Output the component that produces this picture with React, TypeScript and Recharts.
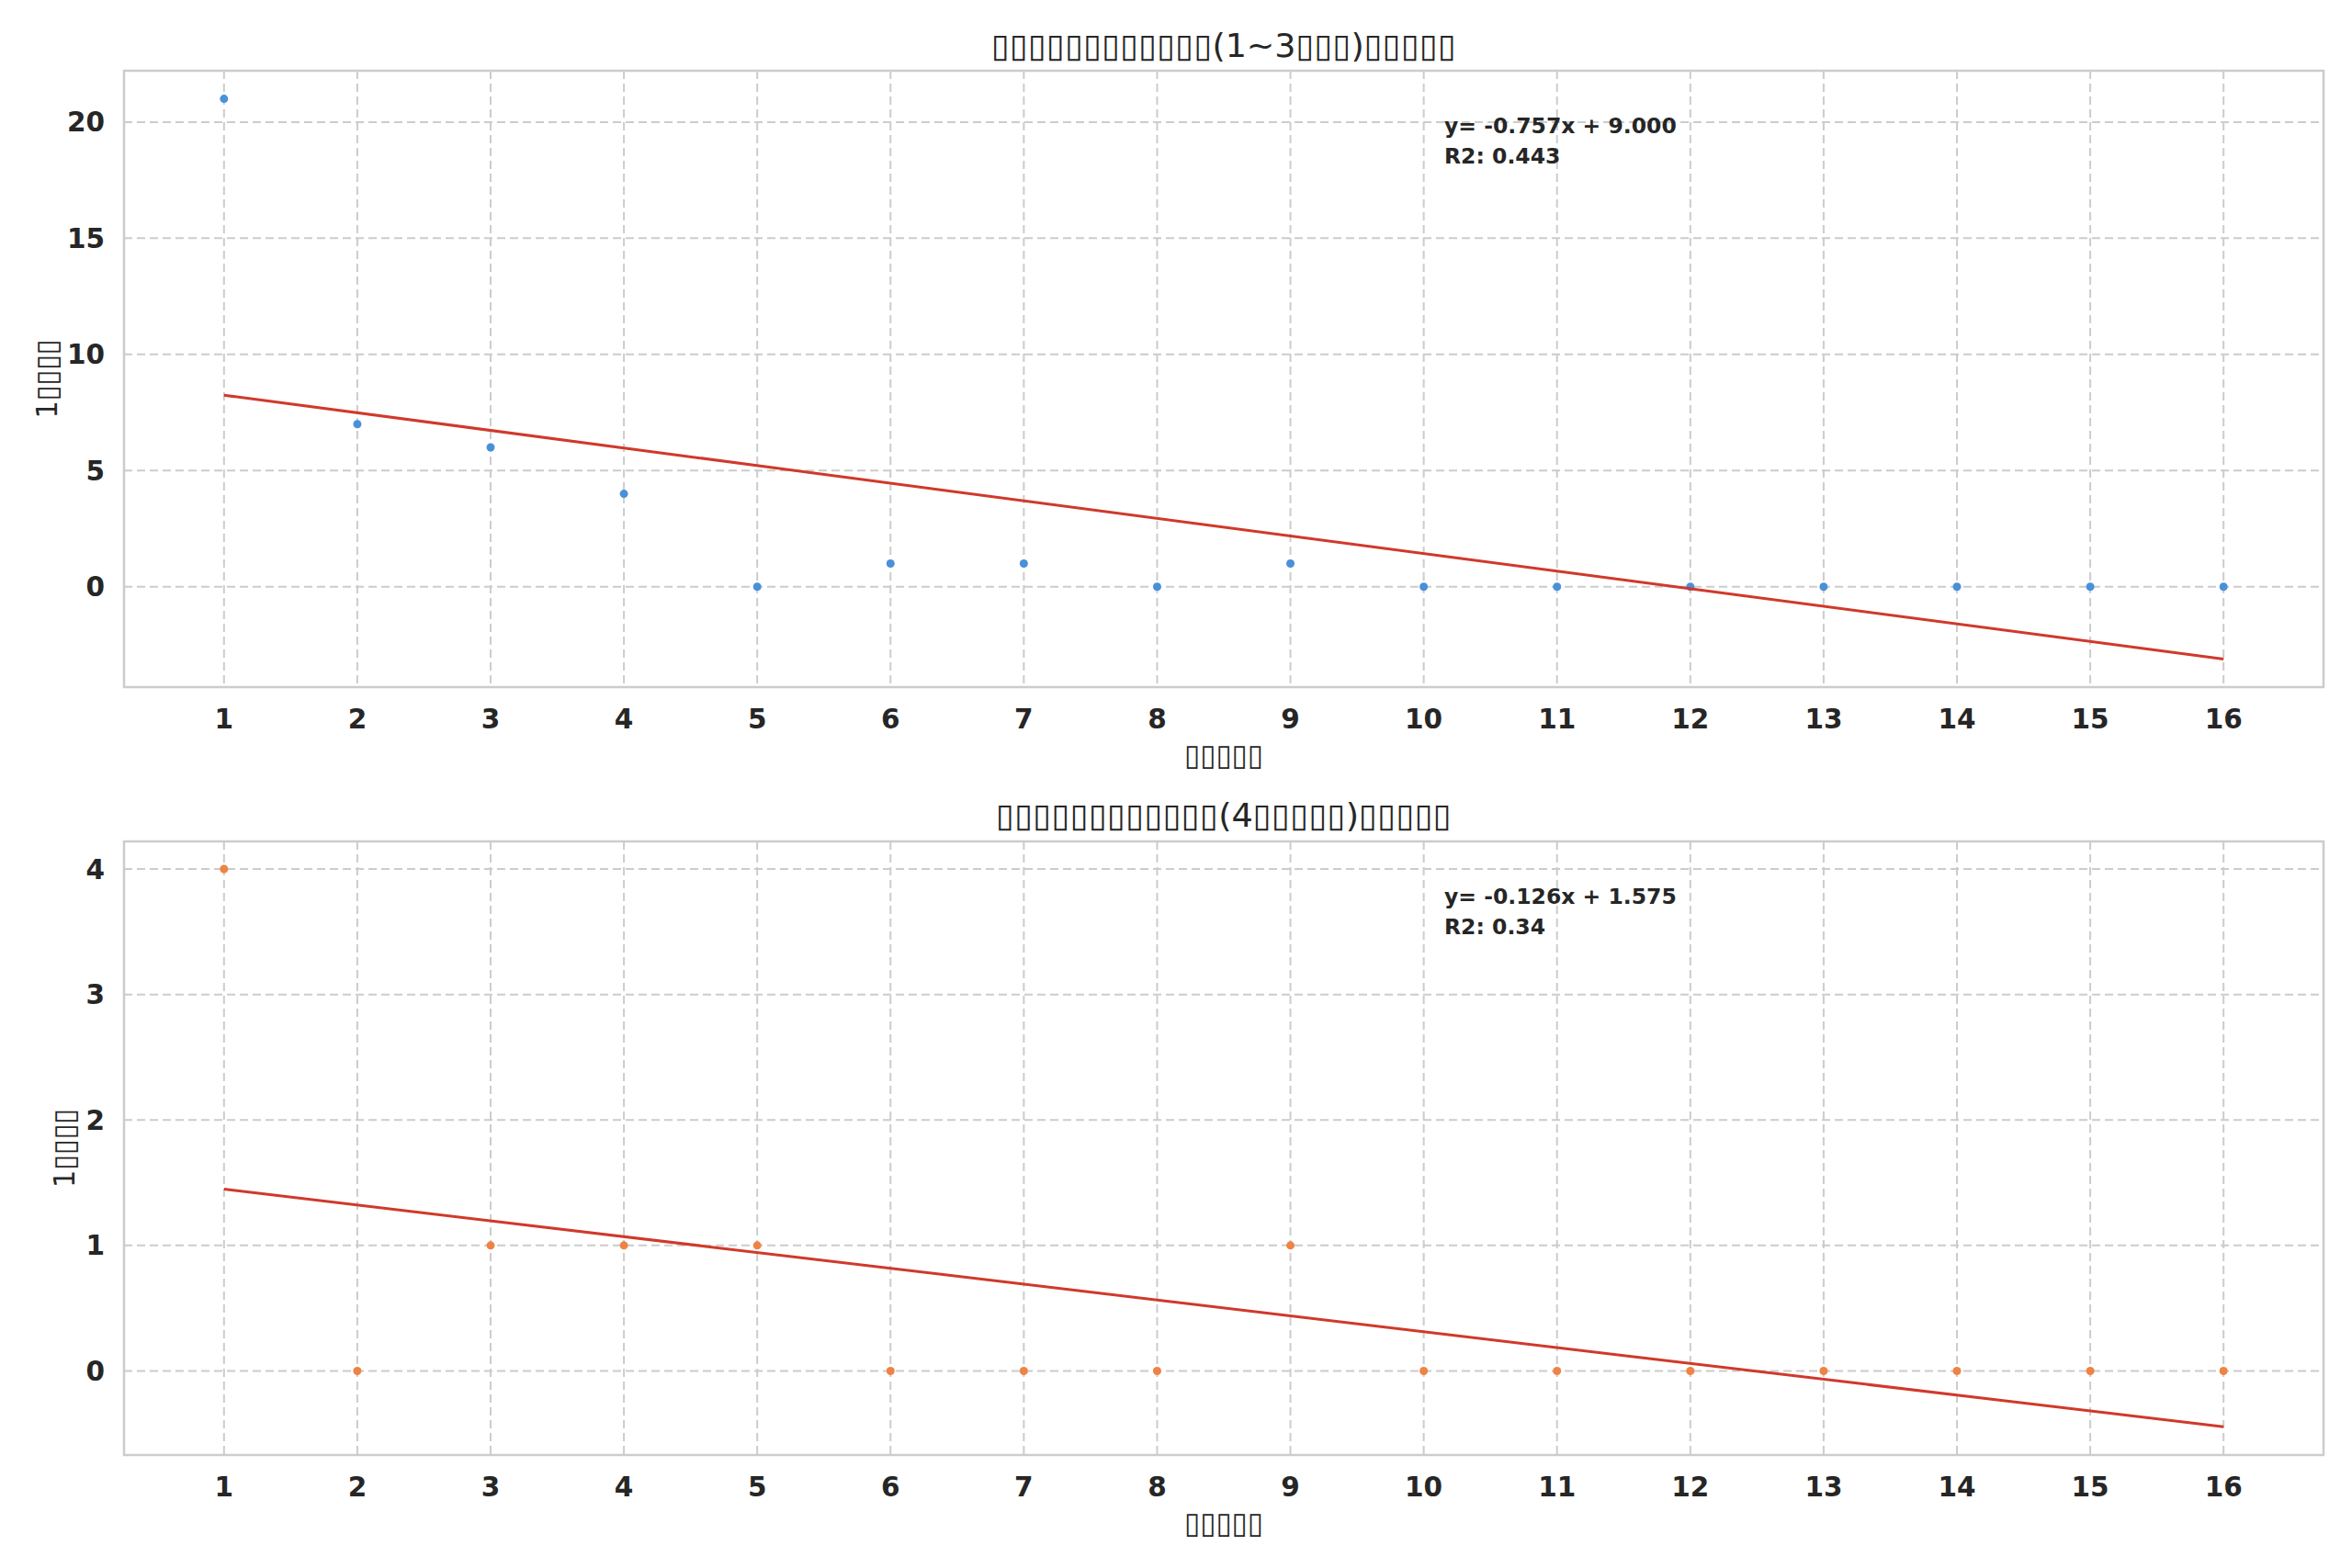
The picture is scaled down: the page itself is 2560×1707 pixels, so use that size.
import React from "react";
import {
    ScatterChart,
    Scatter,
    XAxis,
    YAxis,
    CartesianGrid,
    ReferenceArea,
    Label,
} from "recharts";

// the source figure lost its CJK glyphs; the boxes stand in for them
const earlyTitle = "▯▯▯▯▯▯▯▯▯▯▯▯(1~3▯▯▯)▯▯▯▯▯";
const lateTitle = "▯▯▯▯▯▯▯▯▯▯▯▯(4▯▯▯▯▯)▯▯▯▯▯";
const xLabel = "▯▯▯▯▯";
const yLabel = "1▯▯▯▯";

const days = [1, 2, 3, 4, 5, 6, 7, 8, 9, 10, 11, 12, 13, 14, 15, 16];
const earlyCounts = [21, 7, 6, 4, 0, 1, 1, 0, 1, 0, 0, 0, 0, 0, 0, 0];
const lateCounts = [4, 0, 1, 1, 1, 0, 0, 0, 1, 0, 0, 0, 0, 0, 0, 0];

const trendDays = [1, 16];
const earlyTrend = [8.243, -3.112];
const lateTrend = [1.449, -0.445];

const earlyFit = ["y= -0.757x + 9.000", "R2: 0.443"];
const lateFit = ["y= -0.126x + 1.575", "R2: 0.34"];

const xDomain: [number, number] = [0.25, 16.75];
const earlyDomain: [number, number] = [-4.32, 22.21];
const lateDomain: [number, number] = [-0.67, 4.22];
const earlyTicks = [0, 5, 10, 15, 20];
const lateTicks = [0, 1, 2, 3, 4];

const FONT = "DejaVu Sans";
const INK = "#262626";
const GRID = "#cccccc";
const RED = "#d0392b";

const tickStyle = { fontSize: 29.5, fontWeight: 700, fill: INK, fontFamily: FONT };

function toPoints(xs: number[], ys: number[]) {
    return xs.map((x, i) => ({ x, y: ys[i] }));
}

function Panel({
    counts,
    trend,
    domain,
    ticks,
    color,
    height,
    top,
    bottom,
    yLabelX,
}: {
    counts: number[];
    trend: number[];
    domain: [number, number];
    ticks: number[];
    color: string;
    height: number;
    top: number;
    bottom: number;
    yLabelX: number;
}) {
    return (
        <ScatterChart
            width={2560}
            height={height}
            margin={{ top, right: 31, bottom, left: 35 }}
        >
            <CartesianGrid stroke={GRID} strokeWidth={2} strokeDasharray="9 5" />
            <ReferenceArea
                x1={xDomain[0]}
                x2={xDomain[1]}
                y1={domain[0]}
                y2={domain[1]}
                fill="none"
                stroke={GRID}
                strokeWidth={2.5}
                ifOverflow="visible"
            />
            <XAxis
                type="number"
                dataKey="x"
                domain={xDomain}
                ticks={days}
                interval={0}
                allowDataOverflow
                axisLine={false}
                tickLine={false}
                tickSize={0}
                tickMargin={24}
                height={90}
                tick={tickStyle}
            >
                <Label
                    content={(p: any) => {
                        const vb = p.viewBox;
                        return (
                            <text
                                x={vb.x + vb.width / 2}
                                y={vb.y + 85}
                                textAnchor="middle"
                                fontFamily={FONT}
                                fontSize={32}
                                fill={INK}
                                textLength={86}
                                lengthAdjust="spacingAndGlyphs"
                            >
                                {xLabel}
                            </text>
                        );
                    }}
                />
            </XAxis>
            <YAxis
                type="number"
                dataKey="y"
                domain={domain}
                ticks={ticks}
                allowDataOverflow
                axisLine={false}
                tickLine={false}
                tickSize={0}
                tickMargin={21}
                width={100}
                tick={tickStyle}
            >
                <Label
                    content={(p: any) => {
                        const vb = p.viewBox;
                        const cy = vb.y + vb.height / 2;
                        return (
                            <text
                                x={yLabelX}
                                y={cy}
                                transform={`rotate(-90 ${yLabelX} ${cy})`}
                                textAnchor="middle"
                                fontFamily={FONT}
                                fontSize={32}
                                fill={INK}
                                textLength={86}
                                lengthAdjust="spacingAndGlyphs"
                            >
                                {yLabel}
                            </text>
                        );
                    }}
                />
            </YAxis>
            <Scatter
                data={toPoints(days, counts)}
                isAnimationActive={false}
                shape={(p: any) => <circle cx={p.cx} cy={p.cy} r={4.5} fill={color} />}
            />
            <Scatter
                data={toPoints(trendDays, trend)}
                isAnimationActive={false}
                line={{ stroke: RED, strokeWidth: 3 }}
                shape={() => <g />}
            />
        </ScatterChart>
    );
}

function Overlay() {
    const fitText = (lines: string[], y: number) =>
        lines.map((s, i) => (
            <text
                key={s}
                x={1572}
                y={y + i * 33}
                fontFamily={FONT}
                fontSize={23.5}
                fontWeight={700}
                fill={INK}
            >
                {s}
            </text>
        ));
    return (
        <svg
            width={2560}
            height={1707}
            style={{ position: "absolute", left: 0, top: 0, pointerEvents: "none" }}
        >
            <text
                x={1332}
                y={62}
                textAnchor="middle"
                fontFamily={FONT}
                fontSize={36}
                fill={INK}
                textLength={506}
                lengthAdjust="spacingAndGlyphs"
            >
                {earlyTitle}
            </text>
            <text
                x={1332}
                y={900}
                textAnchor="middle"
                fontFamily={FONT}
                fontSize={36}
                fill={INK}
                textLength={496}
                lengthAdjust="spacingAndGlyphs"
            >
                {lateTitle}
            </text>
            {fitText(earlyFit, 145)}
            {fitText(lateFit, 984)}
        </svg>
    );
}

export default function App() {
    return (
        <div
            style={{
                position: "absolute",
                left: 0,
                top: 0,
                width: 2560,
                height: 1707,
                background: "#ffffff",
            }}
        >
            <div style={{ position: "absolute", left: 0, top: 0 }}>
                <Panel
                    counts={earlyCounts}
                    trend={earlyTrend}
                    domain={earlyDomain}
                    ticks={earlyTicks}
                    color="#4a90d9"
                    height={850}
                    top={77}
                    bottom={12}
                    yLabelX={62}
                />
            </div>
            <div style={{ position: "absolute", left: 0, top: 850 }}>
                <Panel
                    counts={lateCounts}
                    trend={lateTrend}
                    domain={lateDomain}
                    ticks={lateTicks}
                    color="#ee8344"
                    height={857}
                    top={66}
                    bottom={33}
                    yLabelX={81}
                />
            </div>
            <Overlay />
        </div>
    );
}
